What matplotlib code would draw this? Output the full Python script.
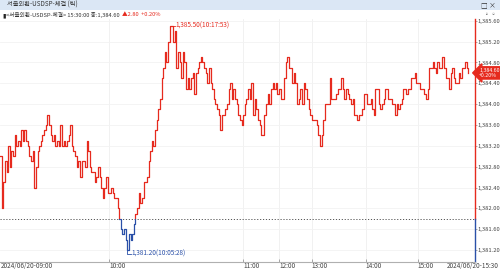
import numpy as np
import matplotlib.pyplot as plt
from matplotlib.patches import Rectangle
from matplotlib.ticker import FuncFormatter
from matplotlib.transforms import blended_transform_factory

plt.rcParams['font.family'] = ['Noto Sans CJK KR', 'DejaVu Sans']

# tick prices, 09:00 -> 15:30
px_0900 = [1383.0, 1382.0, 1382.5, 1382.9, 1382.7, 1383.2, 1382.8, 1383.1, 1383.0, 1383.4,
           1383.2, 1383.3, 1383.2, 1383.5, 1383.3, 1383.5, 1383.3, 1383.2, 1383.0, 1382.9,
           1383.1, 1382.4, 1382.8, 1383.1, 1383.2, 1383.3, 1383.4, 1383.5, 1383.6, 1383.8,
           1383.6, 1383.4, 1383.3, 1383.4, 1383.2, 1383.3, 1383.2, 1383.6, 1383.2, 1383.3,
           1383.2, 1383.3, 1383.4, 1383.6, 1383.2, 1383.1, 1383.0, 1382.8, 1382.9, 1382.6,
           1382.9, 1382.9, 1382.8, 1383.3, 1383.1, 1382.8, 1382.7, 1382.7, 1382.5, 1382.6,
           1382.8, 1382.6, 1382.4, 1382.2, 1382.4, 1382.6, 1382.3, 1382.3, 1382.4, 1382.3,
           1382.2, 1382.2, 1382.0, 1381.8]
px_1000 = [1381.6, 1381.5, 1381.6, 1381.4, 1381.2, 1381.5, 1381.4, 1381.5, 1381.7, 1381.9,
           1382.0, 1382.3, 1382.1, 1382.2, 1382.5, 1382.5, 1382.6, 1382.9, 1383.1, 1383.3,
           1383.2, 1383.5, 1383.7, 1383.9, 1384.1, 1384.5, 1384.7, 1385.0, 1384.8, 1385.2,
           1385.5, 1385.5, 1385.2, 1385.4, 1384.7, 1385.0, 1384.8, 1384.5, 1385.0, 1384.8,
           1384.3, 1384.5, 1384.3, 1384.5, 1384.6, 1384.2, 1384.6, 1384.7, 1384.8, 1384.9,
           1384.8, 1384.7, 1384.6, 1384.4, 1384.7, 1384.4, 1384.3, 1384.1, 1384.0, 1383.9,
           1383.8, 1383.5, 1383.8, 1383.8, 1383.9, 1384.0, 1384.3, 1384.4, 1384.1, 1384.3,
           1384.1, 1384.0, 1383.8, 1383.7, 1383.6]
px_1100 = [1383.8, 1384.0, 1384.1, 1384.3, 1384.1, 1384.4, 1383.8, 1384.1, 1383.9, 1383.7,
           1383.6, 1383.4, 1383.4, 1383.8, 1384.0, 1384.2, 1384.0, 1384.3, 1384.4, 1384.3,
           1384.4, 1384.2, 1384.3, 1384.1, 1384.1, 1384.5, 1384.8, 1384.9, 1384.7, 1384.7,
           1384.4, 1384.6, 1384.4, 1384.0, 1384.1, 1384.3, 1384.0, 1384.4, 1384.3, 1384.1,
           1383.9, 1383.8, 1383.7, 1383.7, 1383.7, 1383.6, 1383.4, 1383.2, 1383.4, 1383.7,
           1384.0, 1384.0, 1384.0, 1384.5, 1384.1, 1384.1, 1384.1, 1384.2, 1384.3, 1384.3,
           1384.5, 1384.3, 1384.1, 1384.3, 1384.2, 1384.1, 1384.0, 1384.1, 1383.8, 1383.8,
           1383.7, 1383.8, 1383.8]
px_1400 = [1383.9, 1384.2, 1384.2, 1384.0, 1384.0, 1384.1, 1383.9, 1383.8, 1384.3, 1384.3,
           1384.0, 1383.9, 1384.0, 1384.1, 1384.3, 1384.3, 1384.1, 1384.1, 1384.0, 1384.0,
           1383.8, 1384.0, 1383.9, 1384.0, 1384.1, 1384.3, 1384.3, 1384.2, 1384.3, 1384.3,
           1384.5, 1384.5, 1384.6, 1384.4, 1384.4, 1384.3, 1384.3, 1384.3, 1384.2, 1384.1,
           1384.3, 1384.7, 1384.7, 1384.8, 1384.7, 1384.6, 1384.8, 1384.7, 1384.7, 1384.9,
           1384.7, 1384.5, 1384.5, 1384.3, 1384.6, 1384.7, 1384.5, 1384.4, 1384.4, 1384.6,
           1384.5, 1384.7, 1384.7, 1384.8, 1384.7, 1384.6]

prev_close = 1381.80
last_price = 1384.60
time_ticks = [67, 149, 171, 191, 224, 256]   # tick index of each hour
time_labels = ['10:00', '11:00', '12:00', '13:00', '14:00', '15:00']
price_ticks = [1381.2, 1381.6, 1382.0, 1382.4, 1382.8, 1383.2, 1383.6, 1384.0,
               1384.4, 1384.8, 1385.2, 1385.6]

price = np.array(px_0900 + px_1000 + px_1100 + px_1400)
idx = np.arange(len(price))
i_hi, i_lo = price.argmax(), price.argmin()

RED = '#e62a1e'
BLUE = '#2a50a8'
W, H = 500, 271
FS = 4.6

fig = plt.figure(figsize=(5, 2.71), dpi=100)
ax = fig.add_axes([0, 9 / H, 475 / W, 243 / H])
ax.set_xlim(0, len(price) + 3)
ax.set_ylim(1380.97, 1385.635)

# grid
for t in time_ticks:
    ax.axvline(t, color='#efefef', lw=0.6, zorder=0)
for p in price_ticks:
    ax.axhline(p, color='#f3f3f3', lw=0.6, zorder=0)
ax.axhline(prev_close, color='#555555', lw=0.7, ls=(0, (1.2, 1.8)), zorder=1)

# price line: red above previous close, blue below
x0, x1 = ax.get_xlim()
for color, lo, hi in [(RED, prev_close, 1390), (BLUE, 1370, prev_close)]:
    ln, = ax.plot(idx, price, color=color, lw=0.9, drawstyle='steps-post', zorder=3)
    clip = Rectangle((x0, lo), x1 - x0, hi - lo, transform=ax.transData)
    ln.set_clip_path(clip)

# high / low markers
ax.plot([i_hi, i_hi + 3], [price[i_hi]] * 2, color=RED, lw=0.6)
ax.text(i_hi + 3.5, price[i_hi], '1,385.50(10:17:53)', color=RED, fontsize=FS,
        va='center', ha='left')
ax.plot([i_lo, i_lo, i_lo + 2], [price[i_lo], price[i_lo] - 0.07, price[i_lo] - 0.07],
        color=BLUE, lw=0.6)
ax.text(i_lo + 2.5, price[i_lo] - 0.07, '1,381.20(10:05:28)', color=BLUE, fontsize=FS,
        va='center', ha='left')

# axes styling
for s in ['top', 'left', 'right']:
    ax.spines[s].set_visible(False)
ax.spines['bottom'].set_color('#b0b0b0')
ax.spines['bottom'].set_linewidth(0.8)
bt = blended_transform_factory(ax.transAxes, ax.transData)
ax.plot([1, 1], [prev_close, 1385.635], color=RED, lw=1.0, transform=bt, clip_on=False)
ax.plot([1, 1], [1380.97, prev_close], color=BLUE, lw=1.0, transform=bt, clip_on=False)

ax.yaxis.tick_right()
ax.set_yticks(price_ticks)
ax.yaxis.set_major_formatter(FuncFormatter(lambda v, _: f'{v:,.2f}'))
ax.tick_params(axis='y', length=1.5, width=0.5, color='#888888', pad=0.6,
               labelsize=4.2, labelcolor='#444444')
ax.set_xticks(time_ticks)
ax.set_xticklabels(time_labels)
ax.tick_params(axis='x', length=2, width=0.5, color='#888888', pad=0.3,
               labelsize=FS, labelcolor='#444444', direction='in')
for lab in ax.get_xticklabels():
    lab.set_ha('left')

fig.text(1 / W, 1 - 266 / H, '2024/06/20-09:00', fontsize=FS, color='#444444',
         ha='left', va='center')
fig.text(1 - 1 / W, 1 - 266 / H, '2024/06/20-15:30', fontsize=FS, color='#444444',
         ha='right', va='center')

# last price tag
ax.annotate('1,384.60\n+0.20%', xy=(1, last_price), xycoords=bt, xytext=(3, 0),
            textcoords='offset points', fontsize=3.8, color='white', va='center',
            ha='left', linespacing=0.9, annotation_clip=False,
            bbox=dict(boxstyle='larrow,pad=0.25', fc=RED, ec=RED))

# header
fig.patches.append(Rectangle((0, 1 - 10 / H), 1, 10 / H, transform=fig.transFigure,
                             facecolor='#dbe7f5', edgecolor='none', zorder=0))
fig.text(7 / W, 1 - 5 / H, '서울외환-USDSP-체결 (틱)', fontsize=4.5, color='#333333',
         va='center')
fig.text(1 - 4 / W, 1 - 5 / H, '□ ×', fontsize=4.8, color='#333333', va='center', ha='right')
fig.text(1 - 4 / W, 1 - 14 / H, '▫ ▫', fontsize=4, color='#666666', va='center', ha='right')
fig.text(2 / W, 1 - 15 / H, '▮', fontsize=4.5, color='#222222', va='center')
t1 = fig.text(6 / W, 1 - 15 / H, '<서울외환-USDSP-체결> 15:30:00 종:1,384.60', fontsize=4.1,
              color='#333333', va='center')
fig.canvas.draw()
ax.annotate('▲2.80  +0.20%', xy=(1, 0.5), xycoords=t1, xytext=(2, 0),
            textcoords='offset points', fontsize=4.1, color=RED, va='center',
            annotation_clip=False)

fig.savefig('out.png', dpi=100)
